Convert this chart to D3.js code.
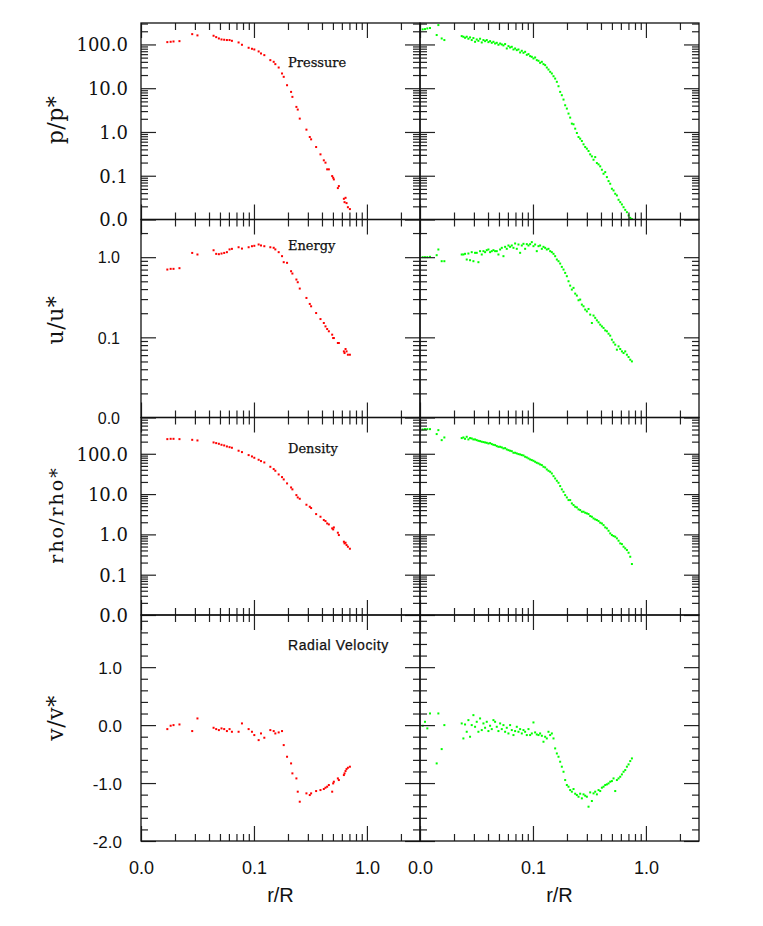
<!DOCTYPE html>
<html><head><meta charset="utf-8">
<script src="https://cdn.jsdelivr.net/npm/d3@7"></script>
<style>body{margin:0;background:#fff}</style>
</head><body>
<svg id="c" width="763" height="926"></svg>
<script>
// ---------- data (r/R and profiles for the two runs) ----------
const redR = [0.0171,0.0183,0.0194,0.0219,0.0284,0.0316,0.0439,0.0463,0.0489,0.0516,0.0545,0.0576,0.0608,0.0638,0.0731,0.0783,0.0897,0.096,0.1007,0.110,0.1154,0.1235,0.1396,0.1495,0.1546,0.1655,0.1772,0.1834,0.1963,0.2131,0.2189,0.2375,0.2441,0.2543,0.2914,0.3119,0.3206,0.3551,0.388,0.4153,0.4297,0.4446,0.4601,0.4925,0.5026,0.5095,0.5529,0.5643,0.6251,0.6337,0.6468,0.6601,0.6784,0.7067];
const redP = [113,115,117,119,172,161,158,147,137,130,128,126,126,121,111,98.3,83.9,79.6,76.8,69.2,62.2,57.0,43.8,40.1,35.5,29.7,21.7,18.2,11.7,8.24,6.34,3.74,3.25,2.02,1.13,0.767,0.679,0.453,0.308,0.225,0.199,0.140,0.140,0.0982,0.0899,0.0824,0.0522,0.058,0.0297,0.0249,0.0313,0.0237,0.0191,0.0173];
const redU = [0.701,0.715,0.715,0.729,1.13,1.08,1.22,1.10,1.09,1.11,1.13,1.155,1.25,1.27,1.33,1.28,1.33,1.37,1.386,1.44,1.40,1.37,1.33,1.31,1.25,1.155,1.03,0.866,0.85,0.668,0.625,0.526,0.487,0.406,0.310,0.261,0.244,0.201,0.169,0.151,0.137,0.127,0.119,0.108,0.098,0.098,0.085,0.085,0.0668,0.0637,0.0715,0.0668,0.0607,0.0607];
const redRho = [231,235,235,231,222,214,191,184,177,167,161,152,146,141,119,110,92.7,85.9,79.6,71.0,65.8,60.9,47.6,41.7,37.9,30.7,26.4,23.1,18.4,14.6,13.1,9.44,8.26,7.65,5.44,4.85,4.50,3.19,2.74,2.27,2.14,1.87,1.77,1.41,1.33,1.49,1.10,0.962,0.658,0.598,0.621,0.544,0.494,0.441];
const redV = [-0.069,-0.011,0,0.011,-0.103,0.115,-0.046,-0.069,-0.086,-0.057,-0.069,-0.103,-0.069,-0.115,-0.115,0.029,-0.069,-0.115,-0.172,-0.259,-0.144,-0.218,-0.086,-0.103,-0.144,-0.126,-0.103,-0.345,-0.546,-0.661,-0.833,-0.920,-1.149,-1.322,-1.178,-1.207,-1.178,-1.138,-1.121,-1.103,-1.080,-1.063,-1.034,-1.149,-1.006,-0.977,-0.920,-0.948,-0.862,-0.833,-0.793,-0.759,-0.736,-0.718];

const greenR = [0.01056,0.01107,0.01161,0.01226,0.01405,0.01454,0.01556,0.01643,
 0.0234,0.02421,0.02505,0.02592,0.02682,0.02774,0.0287,0.0297,0.03073,0.03179,0.03289,0.03403,0.03521,0.03643,0.03769,0.03899,0.04034,0.04174,0.04318,0.04467,
 0.04622,0.04782,0.04947,0.05119,0.05296,0.05479,0.05668,0.05864,0.06067,0.06277,0.06494,0.06719,0.06951,0.07192,0.07441,0.07698,0.07964,0.0824,0.08525,0.0882,
 0.09125,0.0944,0.09766,0.101,0.1045,0.1081,0.1119,0.1157,0.1198,0.1239,0.1282,0.1326,0.1372,0.142,0.1469,0.152,0.1572,0.1627,0.1683,
 0.1741,0.1801,0.1864,0.1928,0.1995,0.2064,0.2135,0.2209,0.2286,0.2365,0.2447,0.2531,0.2618,0.2709,0.2803,0.29,0.3,0.3104,0.3211,0.3322,0.3437,
 0.3556,0.3679,0.3806,0.3938,0.4074,0.4215,0.4361,0.4512,0.4668,0.4829,0.4996,0.5169,0.5348,0.5533,0.5724,0.5922,0.6127,0.6339,0.6558,0.6785,0.702,0.7263,0.7514];
const greenP = [221,224,232,237,164,277,137,126,
 155,150,142,150,135,145,126,140,115,130,121,135,111,126,119,126,113,119,109,115,
 105,109,98.3,105,100,94.9,102,80.9,91.6,85.3,88.4,76.8,80.9,74.1,76.8,65.6,71.6,64.4,67.9,57.9,
 60.1,54.1,52.2,47.8,50.4,43.8,42.3,38.0,40.1,35.5,33.7,29.7,26.7,23.7,21.7,18.8,16.6,14.0,11.1,
 8.24,6.92,5.50,4.08,3.42,2.63,2.13,1.55,1.50,1.19,0.948,0.767,0.703,0.622,0.522,0.453,0.415,0.367,0.308,0.277,0.232,
 0.267,0.195,0.182,0.164,0.137,0.111,0.121,0.0931,0.0755,0.0656,0.0504,0.0461,0.0387,0.0355,0.0282,0.0249,0.0221,0.0191,0.0166,0.0147,0.0124,0.0109,0.0102];
const greenU = [1.0,1.0,1.0,1.01,1.059,1.247,0.891,0.891,
 1.080,1.080,1.101,0.935,1.111,0.917,1.155,0.891,1.133,1.133,0.866,1.189,1.080,1.189,1.155,1.223,1.247,1.155,1.189,1.223,
 1.189,1.189,1.080,1.247,1.308,1.029,1.346,1.271,1.399,1.346,1.399,1.308,1.482,1.271,1.439,1.133,1.399,1.468,1.271,1.454,
 1.399,1.454,1.540,1.372,1.439,1.189,1.372,1.399,1.271,1.346,1.308,1.247,1.271,1.189,1.155,1.101,1.029,0.935,0.891,
 0.833,0.757,0.701,0.637,0.579,0.501,0.442,0.394,0.414,0.351,0.332,0.290,0.296,0.256,0.244,0.222,0.211,0.226,0.192,0.151,0.187,
 0.175,0.163,0.154,0.144,0.137,0.131,0.122,0.119,0.111,0.105,0.0935,0.0866,0.0810,0.0701,0.0772,0.0715,0.0668,0.0637,0.0668,0.0607,0.0568,0.0526,0.0501];
const greenRho = [401,409,409,409,308,386,218,254,
 245,254,235,264,227,245,240,227,227,218,210,206,199,195,191,187,180,184,174,167,
 164,155,149,149,144,136,138,128,123,119,116,106,106,102,98.1,96.3,92.7,90.9,84.3,81.1,
 76.6,72.4,69.7,67.0,63.3,59.8,57.6,54.4,52.4,47.6,45.8,40.9,37.9,35.8,32.5,27.9,24.4,21.4,19.1,
 15.8,13.1,11.4,9.44,8.26,7.10,7.10,5.87,5.34,4.85,4.67,4.17,4.01,3.65,3.65,3.44,3.32,3.19,2.85,2.74,2.49,
 2.36,2.27,2.14,1.95,1.87,1.70,1.49,1.41,1.23,1.06,0.962,0.909,0.875,0.796,0.697,0.598,0.575,0.494,0.450,0.409,0.351,0.279,0.184];
const greenV = [-0.011,0.057,-0.057,0.201,-0.661,0.201,-0.414,0,
 0.029,-0.230,0.011,-0.115,0.086,-0.201,0,0.172,-0.029,0.057,-0.115,0.115,-0.086,0.029,-0.046,0.057,-0.103,-0.011,-0.069,0.086,
 0.057,-0.029,-0.103,0.029,-0.069,0,-0.115,-0.046,-0.144,0,-0.086,-0.172,-0.103,-0.029,-0.115,-0.069,-0.144,-0.086,-0.115,-0.172,
 -0.069,-0.172,-0.144,0.046,-0.126,-0.161,-0.172,-0.144,-0.184,-0.287,-0.201,-0.230,-0.115,-0.172,-0.144,-0.230,-0.402,-0.489,-0.546,
 -0.632,-0.718,-0.805,-0.948,-1.034,-1.063,-1.121,-1.149,-1.103,-1.184,-1.207,-1.236,-1.184,-1.264,-1.195,-1.218,-1.236,-1.408,-1.161,-1.310,-1.178,
 -1.149,-1.195,-1.121,-1.138,-1.080,-1.063,-1.034,-1.023,-1.006,-0.977,-0.966,-0.920,-1.138,-0.948,-0.920,-0.891,-0.851,-0.805,-0.776,-0.718,-0.678,-0.621,-0.575];

const xLabelValues = [0.01, 0.1, 1];
const pLabelValues = [0.01, 0.1, 1, 10, 100];
const uLabelValues = [0.01, 0.1, 1];
const rhoLabelValues = [0.01, 0.1, 1, 10, 100];
const vLabelValues = [-2, -1, 0, 1];
const panelTitles = ["Pressure", "Energy", "Density", "Radial Velocity"];
const yTitles = ["p/p*", "u/u*", "rho/rho*", "v/v*"];
const xTitle = "r/R";

// ---------- layout ----------
const svg = d3.select("#c");
const W = 279;
const colX = [141, 420];
const fmt = d3.formatLocale({decimal: ".", thousands: ",", grouping: [3], currency: ["", ""], minus: "-"}).format(".1f");
const serif = "'DejaVu Serif', serif";
const sans = "'Liberation Sans', Arial, sans-serif";

const x = d3.scaleLog().domain([0.01, 2.95]).range([0, W]);

const rows = [
  {top:23, bottom:219.5, y:d3.scaleLog().domain([0.01, Math.pow(10,2.49)]).range([219.5,23]),
   series:[redP, greenP], labels:pLabelValues, lf:serif, ls:18, pad:13, log:true,
   title:panelTitles[0], tf:serif, tfs:13, tls:0, tb:66.5, yt:yTitles[0], ytc:120},
  {top:219.5, bottom:417.5, y:d3.scaleLog().domain([0.01, Math.pow(10,0.47)]).range([417.5,219.5]),
   series:[redU, greenU], labels:uLabelValues, lf:sans, ls:16, pad:21, log:true,
   title:panelTitles[1], tf:serif, tfs:13, tls:0, tb:249.5, yt:yTitles[1], ytc:320},
  {top:417.5, bottom:615, y:d3.scaleLog().domain([0.01, Math.pow(10,2.9)]).range([615,417.5]),
   series:[redRho, greenRho], labels:rhoLabelValues, lf:serif, ls:18, pad:13, log:true,
   title:panelTitles[2], tf:serif, tfs:13, tls:0, tb:453, yt:yTitles[2], ytc:515},
  {top:615, bottom:841, y:d3.scaleLinear().domain([-2, 1.9]).range([841,615]),
   series:[redV, greenV], labels:vLabelValues, lf:sans, ls:17, pad:19, log:false,
   title:panelTitles[3], tf:sans, tfs:14, tls:0.6, tb:650, yt:yTitles[3], ytc:718}
];
const radii = [redR, greenR];
const colors = ["#ff0000", "#00ff00"];

const isDecade = d => Math.abs(Math.log10(d) - Math.round(Math.log10(d))) < 1e-6;
const xTicks = x.ticks();
const xMinor = xTicks.filter(d => !isDecade(d));
const xMajor = xTicks.filter(d => isDecade(d));

function styleAxis(g){
  g.select(".domain").remove();
  g.selectAll(".tick line").attr("stroke","#222").attr("stroke-width",1.2);
  g.selectAll(".tick text").remove();
}

rows.forEach((row, ri) => {
  const y = row.y;
  let yMinor, yMajor;
  if (row.log) {
    const t = y.ticks();
    yMinor = t.filter(d => !isDecade(d));
    yMajor = t.filter(d => isDecade(d));
  } else {
    const t = d3.range(-10, 10).map(i => i * 0.2).map(d => Math.round(d*10)/10)
      .filter(d => d >= y.domain()[0] && d <= y.domain()[1]);
    yMinor = t.filter(d => Math.abs(d - Math.round(d)) > 1e-6);
    yMajor = t.filter(d => Math.abs(d - Math.round(d)) <= 1e-6);
  }

  colX.forEach((x0, ci) => {
    const g = svg.append("g");
    const clipId = `clip${ri}_${ci}`;
    svg.append("clipPath").attr("id", clipId).append("rect")
      .attr("x", x0).attr("y", row.top).attr("width", W).attr("height", row.bottom - row.top);
    const rr = radii[ci], vv = row.series[ci];
    const pts = d3.range(Math.min(rr.length, vv.length)).map(i => [rr[i], vv[i]]);
    g.append("g").attr("clip-path", `url(#${clipId})`)
      .selectAll("rect").data(pts).join("rect")
      .attr("x", d => x0 + x(d[0]) - 1)
      .attr("y", d => y(d[1]) - 1)
      .attr("width", 2).attr("height", 2)
      .attr("fill", colors[ci]);

    [[xMinor,7],[xMajor,15]].forEach(([vals,sz]) => {
      g.append("g").attr("transform", `translate(${x0},${row.top})`)
        .call(d3.axisBottom(x).tickValues(vals).tickSize(sz).tickSizeOuter(0)).call(styleAxis);
      g.append("g").attr("transform", `translate(${x0},${row.bottom})`)
        .call(d3.axisTop(x).tickValues(vals).tickSize(sz).tickSizeOuter(0)).call(styleAxis);
    });
    [[yMinor,7],[yMajor,15]].forEach(([vals,sz]) => {
      g.append("g").attr("transform", `translate(${x0},0)`)
        .call(d3.axisRight(y).tickValues(vals).tickSize(sz).tickSizeOuter(0)).call(styleAxis);
      g.append("g").attr("transform", `translate(${x0 + W},0)`)
        .call(d3.axisLeft(y).tickValues(vals).tickSize(sz).tickSizeOuter(0)).call(styleAxis);
    });

    g.append("rect").attr("x", x0).attr("y", row.top).attr("width", W).attr("height", row.bottom - row.top)
      .attr("fill","none").attr("stroke","#111").attr("stroke-width",1.3);
  });

  const la = svg.append("g").attr("transform", `translate(${colX[0]},0)`)
    .call(d3.axisLeft(y).tickValues(row.labels).tickSize(0).tickPadding(row.pad).tickFormat(fmt));
  la.select(".domain").remove();
  la.selectAll("text").attr("font-family", row.lf).attr("font-size", row.ls).attr("fill","#111")
    .attr("dy", "0.36em");

  svg.append("text").attr("x", 288).attr("y", row.tb).text(row.title)
    .attr("font-family", row.tf).attr("font-size", row.tfs).attr("letter-spacing", row.tls)
    .attr("fill", "#111").attr("stroke", "#111").attr("stroke-width", 0.25);

  svg.append("text").attr("transform", `translate(63,${row.ytc}) rotate(-90)`)
    .attr("text-anchor","middle").attr("font-family", serif)
    .attr("font-size", ri === 2 ? 19 : 22).attr("letter-spacing", ri === 2 ? 2 : 0.5)
    .attr("fill","#111").text(row.yt);
});

colX.forEach(x0 => {
  const ax = svg.append("g").attr("transform", `translate(${x0},841)`)
    .call(d3.axisBottom(x).tickValues(xLabelValues).tickSize(0).tickPadding(20).tickFormat(fmt));
  ax.select(".domain").remove();
  ax.selectAll("text").attr("font-family", sans).attr("font-size", 18).attr("fill","#111");
  svg.append("text").attr("x", x0 + W/2).attr("y", 902).attr("text-anchor","middle")
    .attr("font-family", sans).attr("font-size", 20).attr("fill","#111").text(xTitle);
});
</script>
</body></html>
